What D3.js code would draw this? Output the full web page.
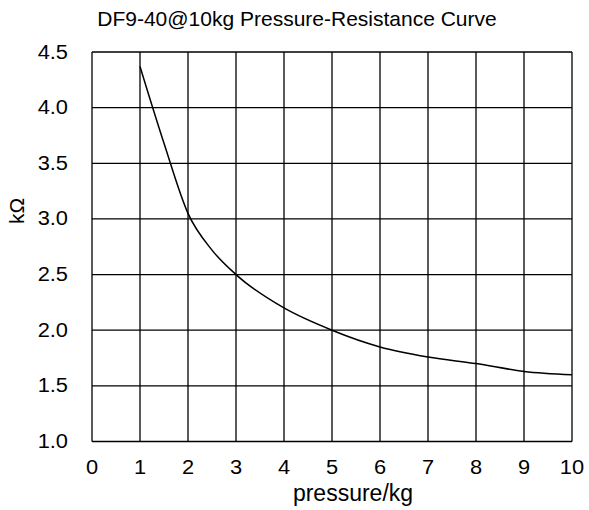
<!DOCTYPE html>
<html><head><meta charset="utf-8">
<script src="https://cdn.jsdelivr.net/npm/d3@7"></script>
<style>body{margin:0;background:#fff}text{font-family:"Liberation Sans",Arial,Helvetica,sans-serif;fill:#000}</style>
</head><body><svg id="c" width="589" height="510"></svg>
<script>
const pressure = [1, 1.5, 2, 2.5, 3, 4, 5, 6, 7, 8, 9, 10];
const resistance = [4.37, 3.68, 3.05, 2.72, 2.5, 2.2, 2.0, 1.85, 1.76, 1.70, 1.63, 1.60];
const xTicks = [0,1,2,3,4,5,6,7,8,9,10];
const yTicks = [1.0,1.5,2.0,2.5,3.0,3.5,4.0,4.5];
const title = "DF9-40@10kg Pressure-Resistance Curve";
const xLabel = "pressure/kg";
const yLabel = "kΩ";

const svg = d3.select("#c");
const L=92, R=572, T=52, B=441.5;
const x = d3.scaleLinear().domain([0,10]).range([L,R]);
const y = d3.scaleLinear().domain([1.0,4.5]).range([B,T]);

const g = svg.append("g");
g.selectAll("line.v").data(xTicks).join("line")
 .attr("x1",d=>x(d)).attr("x2",d=>x(d)).attr("y1",T).attr("y2",B)
 .attr("stroke","#000").attr("stroke-width",1.3);
g.selectAll("line.h").data(yTicks).join("line")
 .attr("y1",d=>y(d)).attr("y2",d=>y(d)).attr("x1",L).attr("x2",R)
 .attr("stroke","#000").attr("stroke-width",1.3);

svg.selectAll("text.xt").data(xTicks).join("text")
 .attr("transform",d=>`translate(${x(d)},474) scale(1.12,1)`).attr("text-anchor","middle")
 .attr("font-size",19.5).text(d=>d);
svg.selectAll("text.yt").data(yTicks).join("text")
 .attr("transform",d=>`translate(68,${y(d)+6.5}) scale(1.12,1)`).attr("text-anchor","end")
 .attr("font-size",19.5).text(d=>d.toFixed(1));

const line = d3.line().x((d,i)=>x(pressure[i])).y(d=>y(d)).curve(d3.curveMonotoneX);
svg.append("path").attr("d",line(resistance)).attr("fill","none")
 .attr("stroke","#000").attr("stroke-width",1.5);

svg.append("text").attr("x",297).attr("y",26).attr("text-anchor","middle")
 .attr("font-size",21).text(title);
svg.append("text").attr("x",353).attr("y",501).attr("text-anchor","middle")
 .attr("font-size",23).text(xLabel);
svg.append("text").attr("transform","translate(24,211) rotate(-90)")
 .attr("text-anchor","middle").attr("font-size",21).text(yLabel);
</script></body></html>
